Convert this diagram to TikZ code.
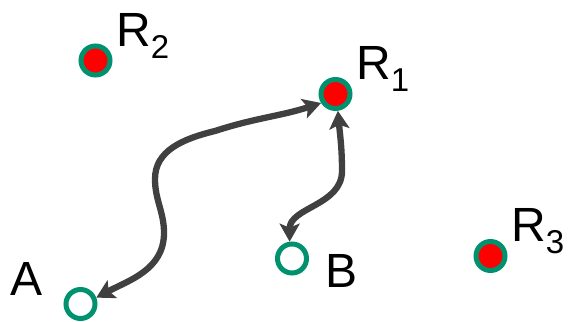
\documentclass[tikz,border=0pt]{standalone}
\usepackage{fontspec}
\setmainfont{Liberation Sans}
\usetikzlibrary{arrows.meta}
\definecolor{ringgreen}{RGB}{0,146,110}
\definecolor{arrgray}{RGB}{64,64,64}
\begin{document}
\begin{tikzpicture}[x=1pt,y=1pt,
  site/.style={circle,draw=ringgreen,line width=5pt,minimum size=29pt,inner sep=0pt},
  filled/.style={site,fill=red},
  hollow/.style={site,fill=white},
  lbl/.style={anchor=base west,inner sep=0pt,font=\fontsize{48}{48}\selectfont},
  arr/.style={draw=arrgray,line width=6.3pt,
    {Stealth[length=18pt,width=20pt,inset=4pt]}-{Stealth[length=18pt,width=20pt,inset=4pt]}}]
\useasboundingbox (0,0) rectangle (569,321);
\newcommand{\sitesub}[1]{\raisebox{-12pt}{\fontsize{33}{33}\selectfont #1}}
% sites
\node[filled] (R2) at (95.5,260.5) {};
\node[filled] (R1) at (335.5,227) {};
\node[filled] (R3) at (490.5,65) {};
\node[hollow] (A) at (80.5,17) {};
\node[hollow] (B) at (292,62.5) {};
% labels
\node[lbl] (lR2) at (116,274) {R\sitesub{2}};
\node[lbl] (lR1) at (356,241) {R\sitesub{1}};
\node[lbl] (lR3) at (511,79) {R\sitesub{3}};
\node[lbl] (lA) at (10,26) {A};
\node[lbl] (lB) at (325.5,34) {B};
% waypoints
\coordinate (c1) at (164,88);
\coordinate (c2) at (155,142);
\coordinate (c3) at (215,190);
\coordinate (d1) at (342,150);
% connectors
\draw[arr] (A.22) to[out=28,in=-90] (c1) to[out=90,in=-90] (c2)
  .. controls (155,170) and (182,182) .. (c3) to[out=18,in=198] (R1.212);
\draw[arr] (R1.-82) to[out=-85,in=90] (d1) to[out=-90,in=90] (B.98);
\end{tikzpicture}
\end{document}
